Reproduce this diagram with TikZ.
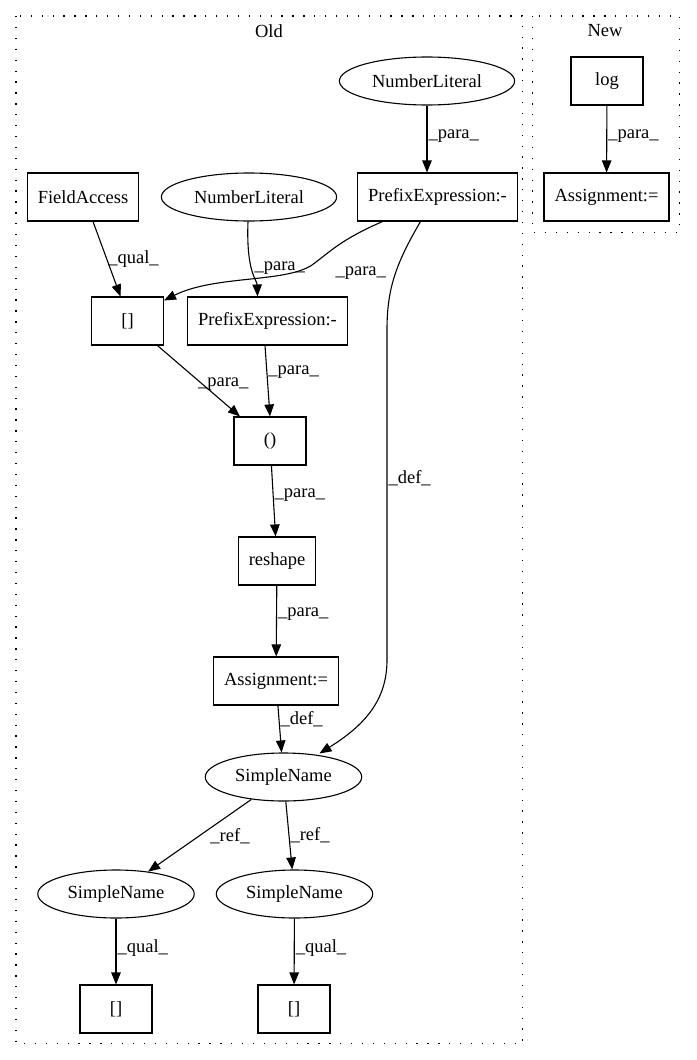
\documentclass[tikz,border=0pt]{standalone}
\usepackage{fontspec}
\setmainfont{Liberation Serif}
\usepackage{tikz}
\usetikzlibrary{shapes,shapes.geometric,arrows.meta,positioning,calc}

\tikzset{
    box/.style={rectangle, draw, line width=1.1pt, minimum width=72pt, minimum height=48pt, inner xsep=10.5pt, font=\fontsize{18.5}{22}\selectfont},
    oval/.style={ellipse, draw, line width=1.1pt, minimum height=48pt, inner xsep=7pt, inner ysep=0pt, font=\fontsize{18.5}{22}\selectfont},
    lbl/.style={font=\fontsize{18.5}{22}\selectfont, inner sep=1pt, anchor=west},
    edge/.style={draw, line width=1.1pt, -{Triangle[length=12pt,width=9.5pt]}},
    cluster/.style={draw, line width=1.3pt, dash pattern=on 1.3pt off 9.6pt}
}

\begin{document}
\begin{tikzpicture}[x=1pt, y=-1pt]
    \useasboundingbox (0,0) rectangle (696,1060);

    % clusters
    \draw[cluster] (16,16) rectangle (522.5,1043.5);
    \draw[cluster] (532.5,16) rectangle (679.5,232.5);
    \node[font=\fontsize{18.5}{22}\selectfont] (oldtitle) at (269,31) {Old};
    \node[font=\fontsize{18.5}{22}\selectfont] (newtitle) at (605,31) {New};

    % old
    \node[oval] (numlit1) at (427,81) {NumberLiteral};
    \node[box] (prefix1) at (437.5,197) {PrefixExpression:-};
    \node[box] (fieldacc) at (83,197) {FieldAccess};
    \node[oval] (numlit2) at (249,197) {NumberLiteral};
    \node[box] (index1) at (127.5,321) {[]};
    \node[box] (prefix2) at (267.5,321) {PrefixExpression:-};
    \node[box] (tuple) at (270,441) {()};
    \node[box] (reshape) at (277,561) {reshape};
    \node[box] (assign1) at (276,681) {Assignment:=};
    \node[oval] (name1) at (283.5,777) {SimpleName};
    \node[oval] (name2) at (116,894) {SimpleName};
    \node[oval] (name3) at (294.5,894) {SimpleName};
    \node[box] (index2) at (116,1009) {[]};
    \node[box] (index3) at (294,1009) {[]};

    % new
    \node[box] (log) at (607,81) {log};
    \node[box] (assign2) at (606.5,197) {Assignment:=};

    \draw[edge] (numlit1) -- node[lbl, pos=0.45] {\_para\_} (prefix1.north -| numlit1.south);
    \draw[edge] ([xshift=10pt]fieldacc.south) -- node[lbl, pos=0.5] {\_qual\_} ([xshift=-7pt]index1.north);
    \draw[edge] ([xshift=-1pt]numlit2.south) .. controls (246,272) and (257,280) .. node[lbl, pos=0.45, xshift=2pt] {\_para\_} ([xshift=-10pt]prefix2.north);
    \draw[edge] ([xshift=-55pt]prefix1.south) .. controls (340,240) and (330,252) .. (312,265)
        node[lbl, xshift=22pt, yshift=-8pt] {\_para\_}
        .. controls (285,283) and (215,275) .. ([yshift=-4pt]index1.north east);
    \draw[edge] ([xshift=-17pt]prefix1.south) .. controls (395,265) and (387,290) .. (387,330)
        -- node[lbl, pos=0.45] {\_def\_} (387,660) .. controls (387,700) and (365,725) .. ([xshift=36pt,yshift=-1pt]name1.north);
    \draw[edge] ([xshift=30pt]index1.south) -- node[lbl, pos=0.4, xshift=6pt, yshift=-10pt] {\_para\_} ([xshift=-30pt]tuple.north);
    \draw[edge] ([xshift=-2.5pt]prefix2.south) -- node[lbl, pos=0.38] {\_para\_} (tuple.north);
    \draw[edge] (tuple) -- node[lbl, pos=0.42] {\_para\_} (reshape);
    \draw[edge] (reshape) -- node[lbl, pos=0.4] {\_para\_} (assign1);
    \draw[edge] (assign1) -- node[lbl, pos=0.3] {\_def\_} (name1);
    \draw[edge] (name1) -- node[lbl, pos=0.45, xshift=4pt, yshift=-4pt] {\_ref\_} (name2);
    \draw[edge] (name1) -- node[lbl, pos=0.5] {\_ref\_} (name3);
    \draw[edge] (name2) -- node[lbl, pos=0.45] {\_qual\_} (index2);
    \draw[edge] (name3) -- node[lbl, pos=0.45] {\_qual\_} (index3);

    \draw[edge] (log) -- node[lbl, pos=0.45] {\_para\_} (assign2);
\end{tikzpicture}
\end{document}
